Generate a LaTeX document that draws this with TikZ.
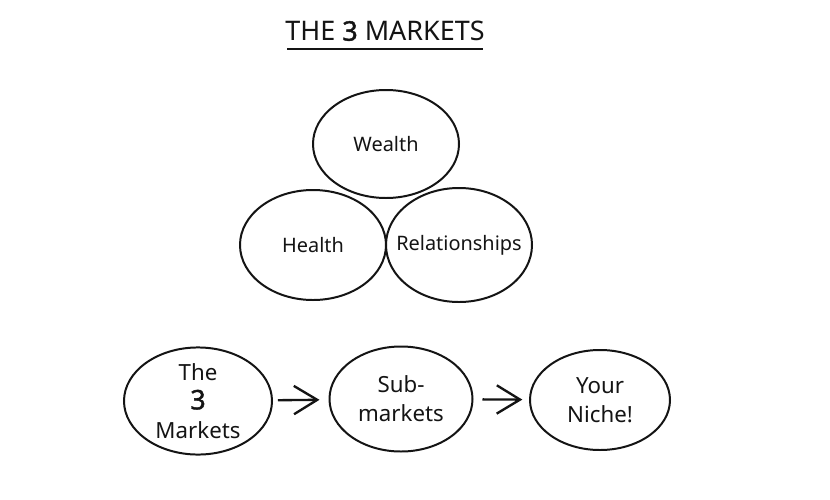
\documentclass[tikz,border=0pt]{standalone}
\usepackage{fontspec}
\setmainfont{Noto Sans}[AutoFakeBold=1.6]
\usepackage{xcolor}
\usetikzlibrary{calc,arrows.meta,positioning,shapes.geometric}
\definecolor{inkBlack}{RGB}{20,20,20}

\begin{document}
\begin{tikzpicture}[x=0.03cm,y=-0.03cm,
  market/.style={draw=inkBlack, line width=1.7pt, ellipse, inner sep=0pt},
  tag/.style={text=inkBlack, font=\fontsize{17}{20}\selectfont},
  stage/.style={draw=inkBlack, line width=1.7pt, ellipse, inner sep=0pt,
    text=inkBlack, align=center, font=\fontsize{19}{25}\selectfont},
  flow/.style={inkBlack, line width=2pt, -{Straight Barb[length=7mm,width=8.5mm]}}]
\useasboundingbox[fill=white] (0,0) rectangle (830,500);

% title
\node[text=inkBlack, font=\fontsize{23}{27}\selectfont] (title) at (385,31) {THE \textbf{3} MARKETS};
\draw[inkBlack, line width=1.8pt] ($(title.south west)+(6,4)$) -- ($(title.south east)+(-6,4)$);

% the three markets
\node[market, minimum width=4.38cm, minimum height=3.24cm] (wealth) at (386,144) {};
\node[market, minimum width=4.38cm, minimum height=3.3cm] (health) at (313,245) {};
\node[market, minimum width=4.38cm, minimum height=3.42cm] (relations) at (459,245) {};
\node[tag] at (wealth) {Wealth};
\node[tag] at (health) {Health};
\node[tag] at (relations) {Relationships};

% from market to niche
\node[stage, minimum width=4.44cm, minimum height=3.18cm] (mkts) at (198,401) {The\\{\fontsize{23}{25}\selectfont\bfseries 3}\\Markets};
\node[stage, minimum width=4.29cm, minimum height=3.15cm] (submkts) at (401,399) {Sub-\\markets};
\node[stage, minimum width=4.2cm, minimum height=3cm] (niche) at (600,400) {Your\\Niche!};
\draw[flow, shorten <=0.15cm, shorten >=0.27cm] (mkts) -- (submkts);
\draw[flow, shorten <=0.27cm, shorten >=0.2cm] (submkts) -- (niche);
\end{tikzpicture}
\end{document}
